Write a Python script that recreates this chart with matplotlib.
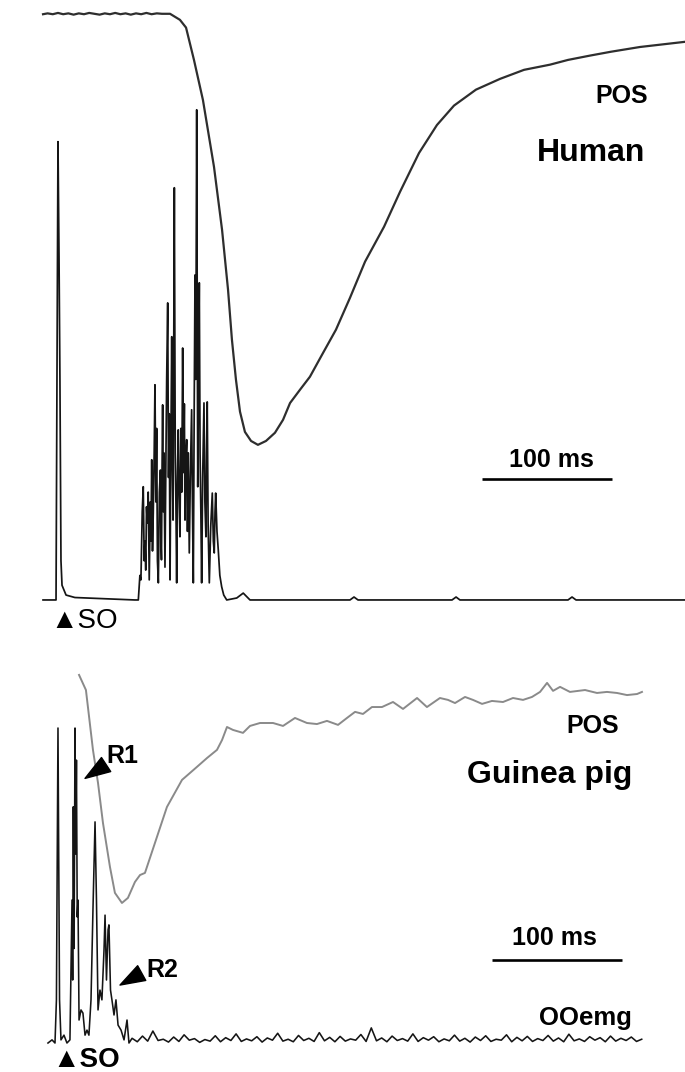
import matplotlib.pyplot as plt

plt.rcParams['font.family'] = ['Liberation Sans', 'DejaVu Sans']

W, H = 685, 1072

# --- Human: eyelid position (POS, % of resting level) and OO EMG (% of max) ---
# time in ms from stimulus onset (SO)
human_pos_t = [-11.5, -8.0, -4.0, 0.0, 4.0, 8.0, 12.0, 16.0, 20.0, 24.0, 28.0, 32.0, 36.0,
               40.0, 44.0, 48.0, 52.0, 56.0, 60.0, 64.0, 68.0, 72.0, 76.0, 80.0, 86.2,
               93.8, 98.5, 104.6, 111.5, 120.0, 126.2, 130.8, 133.8, 136.9, 140.0, 143.8,
               148.5, 153.8, 160.0, 166.9, 173.1, 178.5, 186.2, 193.8, 203.1, 213.8, 224.6,
               236.2, 250.8, 263.1, 277.7, 291.5, 304.6, 321.5, 340.0, 358.5, 378.5, 392.3,
               409.2, 425.4, 447.7, 482.3]
human_pos = [99.9, 100.1, 99.9, 100.2, 99.9, 100.1, 99.8, 100.1, 99.9, 100.2, 100.0, 99.8, 100.1,
             99.9, 100.2, 99.9, 100.1, 99.8, 100.1, 99.9, 100.2, 99.9, 100.1, 100.0, 100.0,
             98.6, 96.8, 89.3, 80.0, 64.5, 49.9, 36.0, 24.4, 15.1, 7.7, 3.0,
             0.9, 0.0, 0.9, 2.8, 5.8, 9.7, 12.8, 15.8, 20.9, 26.7, 34.1,
             42.5, 50.6, 58.7, 67.7, 74.2, 78.7, 82.4, 84.9, 87.0, 88.2, 89.3,
             90.3, 91.2, 92.3, 93.5]

human_emg_t = [-11.5, -2.3, -1.5, 0.0, 0.8, 1.5, 2.3, 3.1, 6.2, 13.0, 59.2,
               61.8, 63.0, 63.8, 64.8, 65.6, 66.3, 66.9, 67.5, 68.1, 68.7, 69.4, 70.2,
               71.0, 71.5, 72.1, 72.7, 73.3, 74.0, 74.6, 75.3, 75.9, 76.5, 77.2, 78.0,
               78.8, 79.2, 79.6, 80.0, 80.5, 81.0, 81.5, 82.3, 83.0, 83.6, 84.4, 85.0,
               85.6, 86.2, 86.8, 87.5, 88.0, 88.5, 89.0, 89.5, 90.2, 90.7, 91.3, 91.9,
               92.5, 93.1, 93.8, 94.5, 95.2, 95.9, 96.6, 97.2, 97.7, 98.3, 99.0, 99.6,
               100.2, 101.0, 101.8, 102.8, 103.4, 104.1, 104.8, 105.4, 106.0, 106.7, 107.5,
               108.1, 108.7, 109.3, 109.9, 110.5, 111.3, 112.3, 113.0, 113.8, 114.3, 114.8,
               115.5, 116.4, 117.5, 118.7, 119.5, 120.2, 120.8, 121.3, 122.3, 123.3, 124.5,
               125.9, 127.5, 129.8, 137.5, 142.5, 147.7, 224.6, 227.7, 230.8,
               303.1, 306.2, 309.2, 392.3, 395.4, 398.5, 482.3]
human_emg = [0, 0, 0, 93.5, 70, 45, 8, 3, 1, 0.5, 0,
             0, 5, 4.1, 18, 23.1, 8, 12, 6.1, 19, 15.7, 22, 4.1,
             20, 12, 28.6, 10, 17.8, 30, 43.9, 20, 35, 8, 3.5, 22,
             26.5, 12, 8.2, 25, 39.8, 18, 30, 6.7, 28, 45, 60.6, 25,
             38, 4.1, 30, 53.7, 28, 16.3, 48, 84.1, 30, 20, 3.5, 25,
             34.7, 22, 12.9, 35, 22, 51.4, 26, 40, 16.3, 28, 32.7, 14,
             30, 9.6, 25, 38.8, 20, 3.5, 40, 66.3, 45, 100, 23.1,
             45, 64.7, 30, 18, 3.5, 25, 40.2, 20, 12.9, 30, 40.4,
             15, 3.5, 15, 21.8, 12, 9.6, 18, 21.8, 14, 10.2, 5,
             2.7, 1, 0, 0.4, 1.4, 0, 0, 0.6, 0,
             0, 0.6, 0, 0, 0.6, 0, 0]

# --- Guinea pig ---
gp_pos_t = [16.2, 21.5, 26.9, 30.8, 34.6, 40.0, 43.8, 49.2, 53.8, 59.2, 63.1, 66.9, 74.6,
            83.8, 95.4, 106.9, 114.6, 122.3, 126.2, 130.0, 134.6, 142.3, 147.7, 155.4,
            165.4, 173.1, 182.3, 191.5, 199.2, 206.9, 215.4, 222.3, 228.5, 234.6, 241.5,
            249.2, 257.7, 265.4, 276.2, 283.8, 293.8, 300.0, 305.4, 313.1, 319.2, 326.2,
            333.8, 342.3, 350.0, 357.7, 364.6, 370.8, 376.2, 380.8, 386.2, 393.8, 405.4,
            414.6, 422.3, 430.0, 437.7, 445.4, 449.2]
gp_pos = [108.6, 101.4, 72.9, 57.1, 38.1, 17.1, 4.8, 0.0, 2.4, 10.0, 13.3, 14.3, 28.6,
          45.7, 58.6, 64.8, 69.0, 72.9, 77.6, 83.8, 82.4, 81.0, 84.3, 85.7,
          85.7, 84.3, 88.1, 85.7, 85.2, 86.7, 84.8, 88.1, 91.0, 90.0, 93.3,
          93.3, 95.7, 92.4, 97.6, 93.3, 97.6, 96.7, 95.2, 98.1, 96.7, 94.8,
          96.2, 95.7, 97.6, 96.7, 98.1, 100.5, 104.8, 101.0, 102.9, 100.5, 101.4,
          100.0, 100.5, 100.0, 99.0, 99.5, 100.5]

gp_emg_t = [-7.7, -4.6, -2.3, -1.2, 0.0, 1.2, 2.3, 4.6, 6.9, 9.2,
            10.8, 11.3, 11.8, 12.4, 13.1, 13.6, 14.2, 14.8, 15.4, 16.2,
            17.7, 19.2, 20.8, 22.3, 23.8, 25.4, 26.9, 28.5, 29.6, 30.8,
            32.3, 33.8, 35.4, 36.2, 37.3, 38.5, 39.2, 40.4, 41.5, 43.1,
            44.6, 46.2, 48.5, 50.8, 53.1, 54.6]
gp_emg = [0, 1, 0, 13.7, 100, 13.7, 1, 2.5, 0, 1,
          45.4, 20, 75, 30, 100, 60, 89.8, 40, 45.4, 7.3,
          10.5, 9.5, 2.5, 4.1, 2.5, 13.7, 42.2, 70.2, 45.4, 10.5,
          16.8, 13.7, 29.5, 40.6, 20.0, 35.9, 37.5, 16.8, 13.7, 8.9,
          13.7, 5.7, 4.1, 1.0, 7.3, 0]
# baseline after the R2 burst
gp_base_t = [57, 61, 65, 69, 73, 77, 81, 85, 89, 93,
             97, 101, 105, 109, 113, 117, 121, 125, 129, 133,
             137, 141, 145, 149, 153, 157, 161, 165, 169, 173,
             177, 181, 185, 189, 193, 197, 201, 205, 209, 213,
             217, 221, 225, 229, 233, 237, 241, 245, 249, 253,
             257, 261, 265, 269, 273, 277, 281, 285, 289, 293,
             297, 301, 305, 309, 313, 317, 321, 325, 329, 333,
             337, 341, 345, 349, 353, 357, 361, 365, 369, 373,
             377, 381, 385, 389, 393, 397, 401, 405, 409, 413,
             417, 421, 425, 429, 433, 437, 441, 445, 449]
gp_base = [1.5, 0.4, 2.2, 0.6, 3.8, 0.8, 1.2, 0.3, 1.9, 0.5,
           2.6, 0.9, 1.4, 0.2, 1.1, 0.6, 2.3, 0.4, 1.7, 0.8,
           2.9, 0.5, 1.3, 0.7, 2.0, 0.3, 1.6, 0.9, 3.1, 0.6,
           1.2, 0.4, 2.4, 0.8, 1.5, 0.5, 3.3, 0.7, 1.8, 0.4,
           2.1, 0.6, 1.3, 0.9, 2.7, 0.5, 4.8, 0.7, 1.6, 0.4,
           2.2, 0.8, 1.4, 0.6, 2.9, 0.5, 1.7, 0.9, 2.0, 0.4,
           1.3, 0.7, 2.5, 0.6, 1.5, 0.3, 1.9, 0.8, 2.3, 0.5,
           1.2, 0.9, 2.6, 0.4, 1.8, 0.7, 2.1, 0.5, 1.4, 0.8,
           2.4, 0.6, 1.6, 0.4, 2.8, 0.7, 1.3, 0.5, 2.0, 0.9,
           1.7, 0.4, 2.2, 0.6, 1.5, 0.8, 1.9, 0.5, 1.2]

SCALE_MS = 100

fig = plt.figure(figsize=(W / 100, H / 100), dpi=100)


def overlay(ylim):
    ax = fig.add_axes([0, 0, 1, 1])
    ax.set_xlim(-44.6, 482.3)
    ax.set_ylim(*ylim)
    ax.axis('off')
    ax.patch.set_alpha(0)
    return ax


ax_hpos = overlay((-145.5, 103.2))
ax_hemg = overlay((-96.3, 122.4))
ax_gpos = overlay((-80.5, 430.0))
ax_gemg = overlay((-9.2, 331.1))

ax_hpos.plot(human_pos_t, human_pos, color='#2e2e2e', lw=1.6)
ax_hemg.plot(human_emg_t, human_emg, color='#151515', lw=1.25)
ax_gpos.plot(gp_pos_t, gp_pos, color='#8a8a8a', lw=1.4)
ax_gemg.plot(gp_emg_t + gp_base_t, gp_emg + gp_base, color='#151515', lw=1.15)

# 100 ms scale bars
ax_hemg.plot([326.2, 326.2 + SCALE_MS], [24.7, 24.7], color='black', lw=1.9, solid_capstyle='butt')
ax_gemg.plot([333.8, 333.8 + SCALE_MS], [26.3, 26.3], color='black', lw=1.9, solid_capstyle='butt')

# R1 / R2 pointers
wedge = dict(arrowstyle='wedge,tail_width=0.55,shrink_factor=0.5', fc='black', ec='black',
             shrinkA=0, shrinkB=0, mutation_scale=22)
ax_gemg.annotate('', xy=(20.8, 84.0), xytext=(37.0, 88.4), arrowprops=wedge)
ax_gemg.annotate('', xy=(47.7, 18.4), xytext=(64.4, 22.2), arrowprops=wedge)


def label(x, y, s, size, bold=True, ha='center'):
    fig.text(x / W, 1 - y / H, s, fontsize=size, ha=ha, va='baseline',
             fontweight='bold' if bold else 'normal')


label(622, 103, 'POS', 18)
label(591, 161, 'Human', 23)
label(551, 467, '100 ms', 18)
label(50, 628, '▲SO', 20, bold=False, ha='left')

label(593, 733, 'POS', 18)
label(550, 783, 'Guinea pig', 23)
label(554, 945, '100 ms', 18)
label(585, 1025, 'OOemg', 18.5)
label(106, 763, 'R1', 18, ha='left')
label(146, 977, 'R2', 18, ha='left')
label(52, 1067, '▲SO', 20, ha='left')

fig.savefig('out.png', dpi=100)
